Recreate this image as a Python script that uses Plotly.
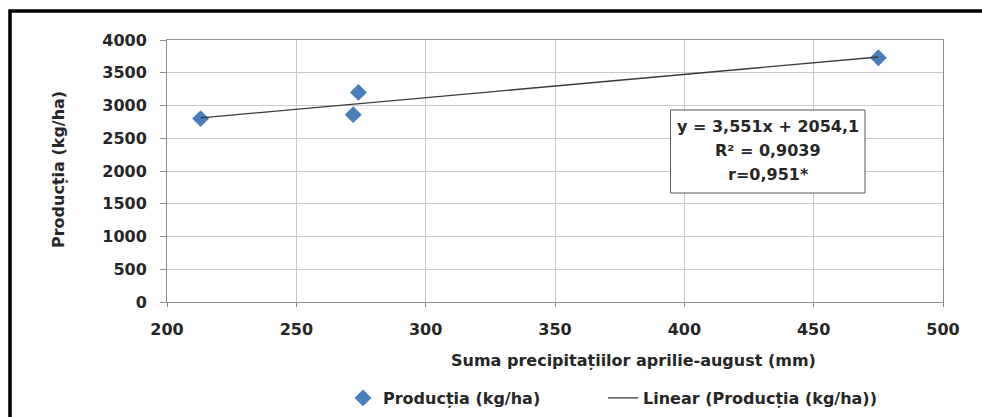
import plotly.graph_objects as go

# ---- data ----
precipitatii = [213, 272, 274, 475]          # mm
productia = [2800, 2860, 3200, 3730]         # kg/ha
trend_slope = 3.551
trend_intercept = 2054.1
x_ticks = [200, 250, 300, 350, 400, 450, 500]
y_ticks = [0, 500, 1000, 1500, 2000, 2500, 3000, 3500, 4000]

eq_lines = ["y = 3,551x + 2054,1", "R² = 0,9039", "r=0,951*"]
x_title = "Suma precipitațiilor aprilie-august (mm)"
y_title = "Producția (kg/ha)"
series_name = "Producția (kg/ha)"
trend_name = "Linear (Producția (kg/ha))"

# trendline from the displayed equation, across data range
tx = [min(precipitatii), max(precipitatii)]
ty = [trend_slope * v + trend_intercept for v in tx]

FONT = "DejaVu Sans"
FS = 16
TXT = "#262626"

# plot area in pixels
L, R, T, B = 167, 943, 40, 302
W, H = 982, 417
pw, ph = R - L, B - T


def px(x):
    return (x - L) / pw


def py(y):
    return (B - y) / ph


fig = go.Figure()
fig.add_trace(go.Scatter(
    x=precipitatii, y=productia, mode="markers", name=series_name,
    marker=dict(symbol="diamond", size=13, color="#4a7ebb"),
    legend="legend",
))
fig.add_trace(go.Scatter(
    x=tx, y=ty, mode="lines", name=trend_name,
    line=dict(color="#3a3a3a", width=1.3),
    legend="legend2",
))

axis_common = dict(
    showline=True, linecolor="#8c8c8c", linewidth=1, mirror=True,
    showgrid=True, gridcolor="#c8c8c8", gridwidth=1,
    ticks="outside", tickcolor="#8c8c8c", zeroline=False,
    automargin=False,
    tickfont=dict(family=FONT, size=FS, color=TXT, weight="bold"),
)

fig.update_xaxes(range=[200, 500], tickvals=x_ticks, ticklen=4,
                 ticklabelstandoff=9, **axis_common)
fig.update_yaxes(range=[0, 4000], tickvals=y_ticks, ticklen=6,
                 ticklabelstandoff=10, **axis_common)

eq_y = [126.5, 150.5, 174.5]
annotations = [
    dict(text=line, xref="paper", yref="paper",
         x=px(768), y=py(yy), xanchor="center", yanchor="middle",
         showarrow=False,
         font=dict(family=FONT, size=FS, color=TXT, weight="bold"))
    for line, yy in zip(eq_lines, eq_y)
] + [
    dict(text=x_title, xref="paper", yref="paper",
         x=px(633), y=py(360), xanchor="center", yanchor="middle",
         showarrow=False,
         font=dict(family=FONT, size=FS, color=TXT, weight="bold")),
    dict(text=y_title, xref="paper", yref="paper",
         x=px(58), y=py(170), xanchor="center", yanchor="middle",
         textangle=-90, showarrow=False,
         font=dict(family=FONT, size=FS, color=TXT, weight="bold")),
]

shapes = [
    # outer frame (left and top edges visible in the cropped original)
    dict(type="path", xref="paper", yref="paper",
         path=f"M {px(10)} {py(430)} L {px(10)} {py(11)} L {px(990)} {py(11)}",
         line=dict(color="black", width=3.5)),
    # equation box
    dict(type="rect", xref="paper", yref="paper",
         x0=px(670.5), x1=px(865), y0=py(110), y1=py(193),
         fillcolor="white", line=dict(color="#595959", width=1)),
]

legend_common = dict(
    orientation="h", yanchor="middle", xanchor="left",
    font=dict(family=FONT, size=FS, color=TXT, weight="bold"),
    itemwidth=30, bgcolor="rgba(0,0,0,0)", borderwidth=0,
)

fig.update_layout(
    width=W, height=H,
    margin=dict(l=L, r=W - R, t=T, b=H - B, autoexpand=False),
    paper_bgcolor="white", plot_bgcolor="white",
    showlegend=True,
    legend=dict(x=px(343), y=py(398), **legend_common),
    legend2=dict(x=px(603), y=py(398), **legend_common),
    annotations=annotations,
    shapes=shapes,
)

fig.write_html(
    "out.html",
    config={"displayModeBar": False},
    post_script="document.body.style.margin='0';document.body.style.padding='0';",
)
